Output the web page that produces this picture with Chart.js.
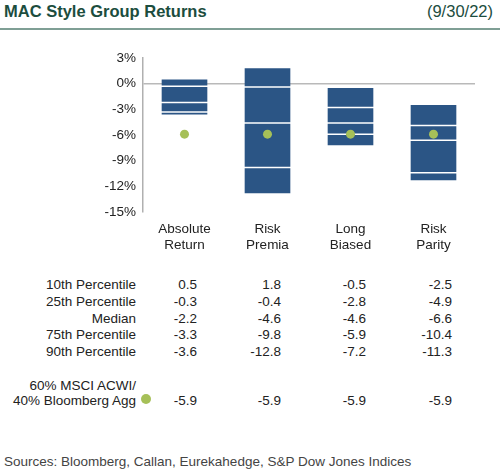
<!DOCTYPE html>
<html>
<head>
<meta charset="utf-8">
<script src="https://cdn.jsdelivr.net/npm/chart.js@4/dist/chart.umd.min.js"></script>
<style>
  body { margin: 0; background: #fff; font-family: "Liberation Sans", Arial, sans-serif; }
  #wrap { position: relative; width: 500px; height: 476px; overflow: hidden; }
  #title { position: absolute; left: 4px; top: 2px; font-size: 16.5px; font-weight: bold; color: #1c4d3e; }
  #date { position: absolute; right: 7px; top: 2px; font-size: 16.5px; color: #1c4d3e; }
  #rule { position: absolute; left: 0; top: 28px; width: 500px; height: 2px; background: #7f9f95; }
  #chartBox { position: absolute; left: 0; top: 0; width: 500px; height: 260px; }
  .cell { position: absolute; font-size: 13.5px; color: #222; text-align: right; white-space: nowrap; line-height: 16px; }
  #sources { position: absolute; left: 4px; top: 454px; font-size: 13.5px; color: #444; }
  #dot { position: absolute; left: 141px; top: 394px; width: 10px; height: 10px; border-radius: 50%; background: #a6c058; }
</style>
</head>
<body>
<div id="wrap">
  <div id="title">MAC Style Group Returns</div>
  <div id="date">(9/30/22)</div>
  <div id="rule"></div>
  <div id="chartBox"><canvas id="myChart"></canvas></div>
  <div id="table"></div>
  <div id="dot"></div>
  <div id="sources">Sources: Bloomberg, Callan, Eurekahedge, S&amp;P Dow Jones Indices</div>
</div>
<script>
const categories = [['Absolute', 'Return'], ['Risk', 'Premia'], ['Long', 'Biased'], ['Risk', 'Parity']];
const p10 = [0.5, 1.8, -0.5, -2.5];
const p25 = [-0.3, -0.4, -2.8, -4.9];
const median = [-2.2, -4.6, -4.6, -6.6];
const p75 = [-3.3, -9.8, -5.9, -10.4];
const p90 = [-3.6, -12.8, -7.2, -11.3];
const benchmark = [-5.9, -5.9, -5.9, -5.9];
const yTicks = [3, 0, -3, -6, -9, -12, -15];

const barBlue = '#2b5585';
const dotGreen = '#a6c058';

// table under the chart
const rows = [
  ['10th Percentile', p10],
  ['25th Percentile', p25],
  ['Median', median],
  ['75th Percentile', p75],
  ['90th Percentile', p90]
];
const colRight = [136, 197, 281, 366, 452];
const table = document.getElementById('table');
function addCell(text, right, top) {
  const d = document.createElement('div');
  d.className = 'cell';
  d.textContent = text;
  d.style.right = (500 - right) + 'px';
  d.style.top = top + 'px';
  table.appendChild(d);
}
rows.forEach((r, i) => {
  const top = 277 + i * 16.8;
  addCell(r[0], colRight[0], top);
  r[1].forEach((v, j) => addCell(v.toFixed(1), colRight[j + 1], top));
});
addCell('60% MSCI ACWI/', colRight[0], 378);
addCell('40% Bloomberg Agg', colRight[0] - 0, 393);
document.querySelectorAll('.cell')[document.querySelectorAll('.cell').length - 1].style.right = (500 - 136) + 'px';
benchmark.forEach((v, j) => addCell(v.toFixed(1), colRight[j + 1], 393));

const lineMarker = (values) => ({
  type: 'line',
  data: values,
  showLine: false,
  pointStyle: 'line',
  pointRadius: 23.5,
  pointHoverRadius: 23.5,
  pointBorderColor: '#ffffff',
  pointBorderWidth: 1.5,
  borderColor: '#ffffff'
});

const ctx = document.getElementById('myChart').getContext('2d');
new Chart(ctx, {
  type: 'bar',
  data: {
    labels: categories,
    datasets: [
      {
        type: 'line',
        data: benchmark,
        showLine: false,
        pointRadius: 4.5,
        pointBackgroundColor: dotGreen,
        pointBorderColor: dotGreen,
        pointBorderWidth: 0,
        order: -1
      },
      Object.assign(lineMarker(p25), { order: 0 }),
      Object.assign(lineMarker(median), { order: 0 }),
      Object.assign(lineMarker(p75), { order: 0 }),
      {
        data: p10.map((v, i) => [v, p90[i]]),
        backgroundColor: barBlue,
        borderWidth: 0,
        categoryPercentage: 1,
        barPercentage: 0.55,
        grouped: false,
        order: 5
      }
    ]
  },
  options: {
    responsive: true,
    maintainAspectRatio: false,
    animation: false,
    events: [],
    layout: { padding: { top: 58, right: 17, left: 0, bottom: 0 } },
    plugins: { legend: { display: false }, tooltip: { enabled: false } },
    scales: {
      x: {
        grid: { display: false, drawTicks: false },
        border: { display: false },
        ticks: {
          color: '#222',
          padding: 9,
          font: { family: 'Liberation Sans', size: 13.5 }
        },
        afterFit: (scale) => { scale.height = 48; }
      },
      y: {
        min: -15,
        max: 3,
        afterBuildTicks: (scale) => { scale.ticks = yTicks.map(v => ({ value: v })); },
        grid: {
          drawTicks: false,
          color: (c) => (c.tick && c.tick.value === 0 ? '#b9b9b9' : 'rgba(0,0,0,0)'),
          lineWidth: 1.5
        },
        border: { display: true, color: '#b0b0b0', width: 1.5 },
        ticks: {
          color: '#222',
          padding: 7,
          font: { family: 'Liberation Sans', size: 13.5 },
          callback: (v) => v + '%'
        },
        afterFit: (scale) => { scale.width = 143; }
      }
    }
  }
});
</script>
</body>
</html>
